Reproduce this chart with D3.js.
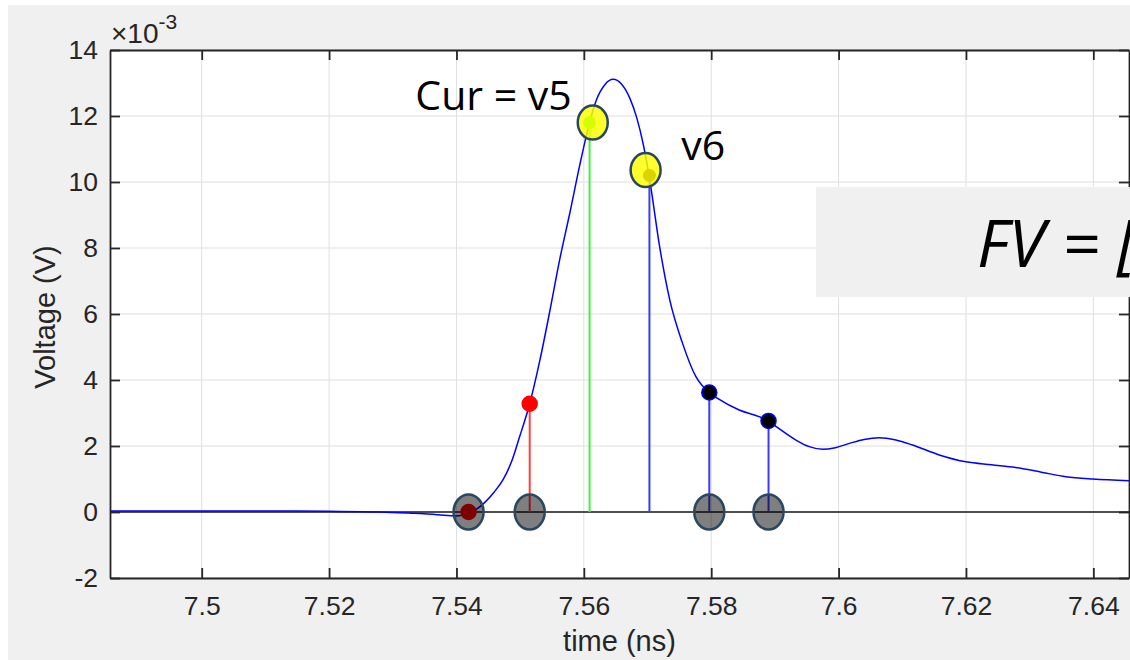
<!DOCTYPE html>
<html>
<head>
<meta charset="utf-8">
<script src="https://cdn.jsdelivr.net/npm/d3@7"></script>
<style>
  body { margin: 0; background: #ffffff; }
  svg { display: block; }
</style>
</head>
<body>
<svg id="chart" width="1130" height="660"></svg>
<script>
// ---------------- data ----------------
const xTicks = [7.5, 7.52, 7.54, 7.56, 7.58, 7.6, 7.62, 7.64];
const xTickLabels = ["7.5", "7.52", "7.54", "7.56", "7.58", "7.6", "7.62", "7.64"];
const yTicks = [-2, 0, 2, 4, 6, 8, 10, 12, 14];
const yTickLabels = ["-2", "0", "2", "4", "6", "8", "10", "12", "14"];
const xDomain = [7.4856, 7.6456];
const yDomain = [-2, 14];

// waveform (time in ns, voltage in units of 1e-3 V)
const timeNs = [7.4856, 7.50, 7.51, 7.52, 7.528, 7.533, 7.537, 7.540, 7.5419, 7.5431,
  7.5445, 7.5459, 7.5473, 7.5487, 7.5499, 7.5515, 7.5531, 7.5546, 7.5562, 7.5578,
  7.5593, 7.5609, 7.5620, 7.5633, 7.5646, 7.5659, 7.5672, 7.5683, 7.5693, 7.5703,
  7.5719, 7.5735, 7.5755, 7.5776, 7.5797, 7.5812, 7.5844, 7.5875, 7.5890, 7.5902,
  7.5933, 7.5954, 7.5975, 7.5995, 7.6017, 7.6040, 7.6064, 7.6090, 7.6116, 7.6158,
  7.6200, 7.6240, 7.6278, 7.6320, 7.6357, 7.6399, 7.6456];
const voltageMilli = [0.03, 0.03, 0.03, 0.02, 0.0, -0.04, -0.08, -0.12, -0.04, 0.08,
  0.30, 0.60, 0.97, 1.55, 2.27, 3.28, 4.60, 6.03, 7.64, 9.06,
  10.46, 11.80, 12.50, 12.95, 13.11, 12.97, 12.55, 11.95, 11.17, 10.12,
  8.04, 6.42, 5.11, 4.10, 3.62, 3.42, 3.09, 2.89, 2.76, 2.59,
  2.18, 1.98, 1.90, 1.95, 2.08, 2.20, 2.25, 2.18, 2.03, 1.73,
  1.52, 1.43, 1.35, 1.20, 1.07, 1.00, 0.95];

// sample markers (stem points) and their zero-line highlights
const sampleTimes = [7.5419, 7.5515, 7.5797, 7.5890];
const sampleValues = [0, 3.28, 3.62, 2.76];

// cursors v5, v6
const cursorTimes = [7.5609, 7.5703];
const cursorValues = [11.80, 10.20];
const cursorLabels = ["Cur = v5", "v6"];
const highlightTimes = [7.5614, 7.5697];
const highlightValues = [11.80, 10.36];

const xLabel = "time (ns)";
const yLabel = "Voltage (V)";
const noteText = "FV = [";

// ---------------- drawing ----------------
const svg = d3.select("#chart");
const W = 1130, H = 660;
const m = { left: 110, top: 50, right: 1129, bottom: 578 };

const x = d3.scaleLinear().domain(xDomain).range([m.left, m.right]);
const y = d3.scaleLinear().domain(yDomain).range([m.bottom, m.top]);

const axisColor = "#262626";
const tickFont = "'Liberation Sans', Arial, Helvetica, sans-serif";

// figure background
svg.append("rect").attr("x", 8).attr("y", 5).attr("width", W - 8).attr("height", H - 5)
  .attr("fill", "#f0f0f0");
// axes background
svg.append("rect").attr("x", m.left).attr("y", m.top)
  .attr("width", m.right - m.left).attr("height", m.bottom - m.top).attr("fill", "#ffffff");

// grid
const grid = svg.append("g").attr("stroke", "#dfdfdf").attr("stroke-width", 1);
grid.selectAll("line.gx").data(xTicks).join("line")
  .attr("x1", d => x(d)).attr("x2", d => x(d))
  .attr("y1", m.top).attr("y2", m.bottom);
grid.selectAll("line.gy").data(yTicks).join("line")
  .attr("x1", m.left).attr("x2", m.right)
  .attr("y1", d => y(d)).attr("y2", d => y(d));

// clip
svg.append("clipPath").attr("id", "plotclip").append("rect")
  .attr("x", m.left).attr("y", m.top).attr("width", m.right - m.left).attr("height", m.bottom - m.top);
const plot = svg.append("g").attr("clip-path", "url(#plotclip)");

// zero line
plot.append("line").attr("x1", m.left).attr("x2", m.right)
  .attr("y1", y(0)).attr("y2", y(0)).attr("stroke", "#1a1a1a").attr("stroke-width", 1.5);

// waveform
const pts = timeNs.map((t, i) => [t, voltageMilli[i]]);
plot.append("path").datum(pts)
  .attr("fill", "none").attr("stroke", "#0000ff").attr("stroke-width", 1.5)
  .attr("d", d3.line().x(d => x(d[0])).y(d => y(d[1])).curve(d3.curveMonotoneX));

// stems for samples
const sampleStemColor = ["#ff4040", "#ff4040", "#3a3aff", "#3a3aff"];
const sampleFill = ["#ff0000", "#ff0000", "#000000", "#000000"];
const sampleStroke = ["#ff0000", "#ff0000", "#0000ff", "#0000ff"];
sampleTimes.forEach((t, i) => {
  if (sampleValues[i] !== 0) {
    plot.append("line").attr("x1", x(t)).attr("x2", x(t))
      .attr("y1", y(0)).attr("y2", y(sampleValues[i]))
      .attr("stroke", sampleStemColor[i]).attr("stroke-width", 2);
  }
});
// cursor stems
const cursorStemColor = ["#44ee44", "#3a3aff"];
const cursorDotColor = ["#00ff00", "#2a0000"];
cursorTimes.forEach((t, i) => {
  plot.append("line").attr("x1", x(t)).attr("x2", x(t))
    .attr("y1", y(0)).attr("y2", y(cursorValues[i]))
    .attr("stroke", cursorStemColor[i]).attr("stroke-width", 2);
});
// sample dots
sampleTimes.forEach((t, i) => {
  plot.append("circle").attr("cx", x(t)).attr("cy", y(sampleValues[i])).attr("r", 7.5)
    .attr("fill", sampleFill[i]).attr("stroke", sampleStroke[i]).attr("stroke-width", 1.5);
});
// cursor dots (seen through the yellow highlight)
cursorTimes.forEach((t, i) => {
  plot.append("circle").attr("cx", x(t)).attr("cy", y(cursorValues[i])).attr("r", 6.5)
    .attr("fill", cursorDotColor[i]);
});

// gray highlights on zero line
sampleTimes.forEach((t) => {
  svg.append("ellipse").attr("cx", x(t)).attr("cy", y(0)).attr("rx", 15).attr("ry", 17.5)
    .attr("fill", "rgba(0,0,0,0.5)").attr("stroke", "#2a4761").attr("stroke-width", 2.5);
});
// yellow highlights on cursors
highlightTimes.forEach((t, i) => {
  svg.append("ellipse").attr("cx", x(t)).attr("cy", y(highlightValues[i])).attr("rx", 15).attr("ry", 17)
    .attr("fill", "rgba(255,255,0,0.83)").attr("stroke", "#2a4761").attr("stroke-width", 2.5);
});

// axes
function styleAxis(g) {
  g.attr("font-size", null).attr("font-family", null);
  g.selectAll("path.domain").attr("stroke", axisColor).attr("stroke-width", 1.8);
  g.selectAll(".tick line").attr("stroke", axisColor).attr("stroke-width", 1.8);
  g.selectAll(".tick text").attr("fill", axisColor)
    .style("font-family", tickFont).style("font-size", "26.5px");
}
const gB = svg.append("g").attr("transform", `translate(0,${m.bottom})`)
  .call(d3.axisBottom(x).tickValues(xTicks).tickFormat((d, i) => xTickLabels[i])
    .tickSizeInner(-10).tickSizeOuter(0).tickPadding(18));
styleAxis(gB);
const gT = svg.append("g").attr("transform", `translate(0,${m.top})`)
  .call(d3.axisTop(x).tickValues(xTicks).tickFormat("").tickSizeInner(-10).tickSizeOuter(0));
styleAxis(gT);
const gL = svg.append("g").attr("transform", `translate(${m.left},0)`)
  .call(d3.axisLeft(y).tickValues(yTicks).tickFormat((d, i) => yTickLabels[i])
    .tickSizeInner(-10).tickSizeOuter(0).tickPadding(12));
styleAxis(gL);
const gR = svg.append("g").attr("transform", `translate(${m.right},0)`)
  .call(d3.axisRight(y).tickValues(yTicks).tickFormat("").tickSizeInner(-10).tickSizeOuter(0));
styleAxis(gR);

// exponent label
const expo = svg.append("text").attr("x", 111).attr("y", 43)
  .attr("fill", axisColor).style("font-family", tickFont).style("font-size", "28px");
expo.append("tspan").text("\u00d710");
expo.append("tspan").attr("dy", -14).style("font-size", "21px").text("-3");

// axis labels
svg.append("text").attr("x", (m.left + m.right) / 2).attr("y", 651)
  .attr("text-anchor", "middle").attr("fill", axisColor)
  .style("font-family", tickFont).style("font-size", "29px").text(xLabel);
svg.append("text").attr("transform", `translate(55,${(m.top + m.bottom) / 2 + 3}) rotate(-90)`)
  .attr("text-anchor", "middle").attr("fill", axisColor)
  .style("font-family", tickFont).style("font-size", "29px").text(yLabel);

// cursor labels
const labelFont = "'Open Sans', 'Noto Sans', sans-serif";
const labelOffsets = [[-21, -12.7, "end"], [35.7, -10, "start"]];
cursorLabels.forEach((lab, i) => {
  svg.append("text")
    .attr("x", x(highlightTimes[i]) + labelOffsets[i][0])
    .attr("y", y(highlightValues[i]) + labelOffsets[i][1])
    .attr("text-anchor", labelOffsets[i][2])
    .attr("fill", "#000").style("font-family", labelFont).style("font-size", "41px").text(lab);
});

// FV note box
svg.append("rect").attr("x", 816).attr("y", 187).attr("width", 330).attr("height", 110)
  .attr("fill", "#f0f0f0");
svg.append("text").attr("x", 977).attr("y", 267).attr("fill", "#000")
  .style("font-family", labelFont).style("font-style", "italic").style("font-size", "66px")
  .text(noteText);
</script>
</body>
</html>
